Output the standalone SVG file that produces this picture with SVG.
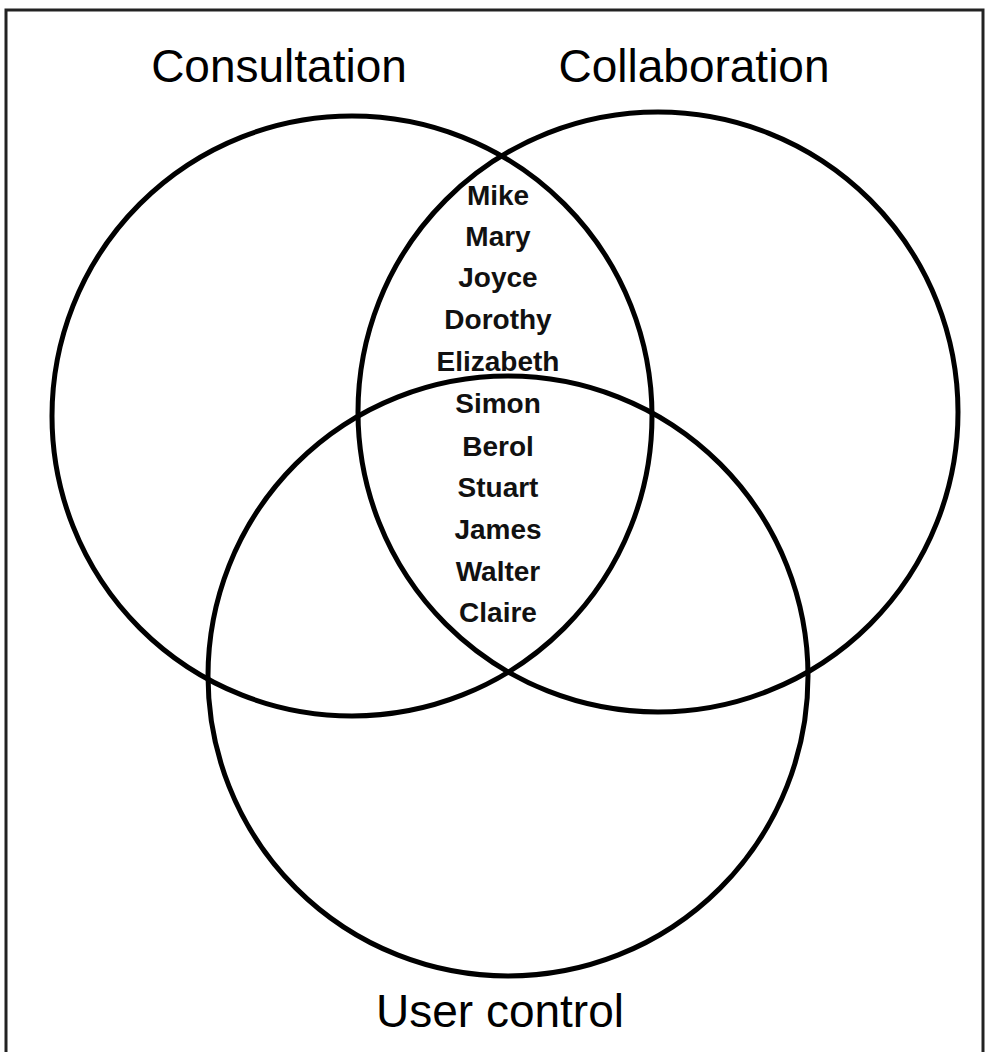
<svg xmlns="http://www.w3.org/2000/svg" width="989" height="1052" viewBox="0 0 989 1052">
  <style>
    .set { fill: none; stroke: #000; stroke-width: 5; }
    .title { font-family: "Liberation Sans", Arial, sans-serif; font-size: 46px; fill: #000; text-anchor: middle; }
    .name { font-family: "Liberation Sans", Arial, sans-serif; font-size: 28px; font-weight: bold; fill: #111; text-anchor: middle; }
  </style>
  <rect x="0" y="0" width="989" height="1052" fill="#fff"/>
  <rect id="frame" x="6" y="10" width="977" height="1060" fill="none" stroke="#222" stroke-width="3"/>
  <g id="consultation">
    <circle class="set" cx="352" cy="416" r="300"/>
    <text class="title" x="279" y="82">Consultation</text>
  </g>
  <g id="collaboration">
    <circle class="set" cx="658" cy="412" r="300"/>
    <text class="title" x="694" y="82">Collaboration</text>
  </g>
  <g id="user-control">
    <circle class="set" cx="508" cy="676" r="300"/>
    <text class="title" x="500" y="1027">User control</text>
  </g>
  <g id="names">
    <text class="name" x="498" y="205">Mike</text>
    <text class="name" x="498" y="246">Mary</text>
    <text class="name" x="498" y="287">Joyce</text>
    <text class="name" x="498" y="329">Dorothy</text>
    <text class="name" x="498" y="371">Elizabeth</text>
    <text class="name" x="498" y="413">Simon</text>
    <text class="name" x="498" y="456">Berol</text>
    <text class="name" x="498" y="497">Stuart</text>
    <text class="name" x="498" y="539">James</text>
    <text class="name" x="498" y="581">Walter</text>
    <text class="name" x="498" y="622">Claire</text>
  </g>
  <g id="connectors"/>
</svg>
